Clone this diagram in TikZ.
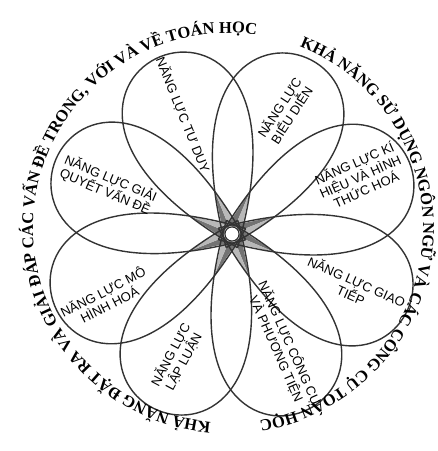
\documentclass[tikz,border=0pt]{standalone}
\usepackage{fontspec}
\setmainfont{Liberation Serif}
\setsansfont{Liberation Sans}
\usetikzlibrary{decorations.text}

\tikzset{
  petal/.style={draw=black!80, line width=1.4pt},
  spikedark/.style={fill=black!55},
  spikelight/.style={fill=black!28},
  skill/.style={font=\sffamily\fontsize{13}{14.5}\selectfont,
    align=center, inner sep=0pt, text=black}
}

\begin{document}
\begin{tikzpicture}[x=1pt, y=1pt]

\useasboundingbox (-232,-217) rectangle (206,234);

% Étoile
\foreach \a in {112,67,22,-23,-68,-113,-158,157}{
  \fill[spikedark, rotate=\a]
  (46,0) -- (8,7) -- (6,0) -- cycle;
  \fill[spikelight, rotate=\a]
  (46,0) -- (6,0) -- (8,-7) -- cycle;
}

% Pétales
\foreach \a in {112,67,22,-23,-68,-113,-158,157}{
  \draw[petal, rotate=\a]
  (-14.8,0)
  .. controls (260,-215) and (260,215) ..
  (-14.8,0);
}

% Centre
\node[circle, draw=black!85, fill=white, line width=0.9pt,
  minimum size=14pt, inner sep=0pt] (hub) at (0,0) {};

% Légendes
\node[skill, rotate=-68] (tuduy) at (-49,119) {NĂNG LỰC TƯ DUY};
\node[skill, rotate=57] (bieudien) at (53,123) {NĂNG LỰC\\BIỂU DIỄN};
\node[skill, rotate=24] (kihieu) at (128,58) {NĂNG LỰC KÍ\\HIỆU VÀ HÌNH\\THỨC HOÁ};
\node[skill, rotate=-24] (giaotiep) at (122,-54) {NĂNG LỰC GIAO\\TIẾP};
\node[skill, rotate=-66] (congcu) at (51,-112) {NĂNG LỰC CÔNG CỤ\\VÀ PHƯƠNG TIỆN};
\node[skill, rotate=62] (lapluan) at (-55,-124) {NĂNG LỰC\\LẬP LUẬN};
\node[skill, rotate=27] (mohinh) at (-126,-64) {NĂNG LỰC MÔ\\HÌNH HOÁ};
\node[skill, rotate=-23] (giaiquyet) at (-124,49) {NĂNG LỰC GIẢI\\QUYẾT VẤN ĐỀ};

% Vòng chữ
\coordinate (ring) at (-4,6);

\path[decorate, decoration={text along path, text align=fit to path,
  text={|\bfseries\fontsize{16.5}{16.5}\selectfont|KHẢ NĂNG ĐẶT RA VÀ GIẢI ĐÁP CÁC VẤN ĐỀ TRONG, VỚI VÀ VỀ TOÁN HỌC}}]
(ring) ++(265:195) arc[start angle=265, end angle=82, radius=195];

\path[decorate, decoration={text along path, text align=fit to path,
  text={|\bfseries\fontsize{16.5}{16.5}\selectfont|KHẢ NĂNG SỬ DỤNG NGÔN NGỮ VÀ CÁC CÔNG CỤ TOÁN HỌC}}]
(ring) ++(68.5:195) arc[start angle=68.5, end angle=-80.5, radius=195];

\end{tikzpicture}
\end{document}
